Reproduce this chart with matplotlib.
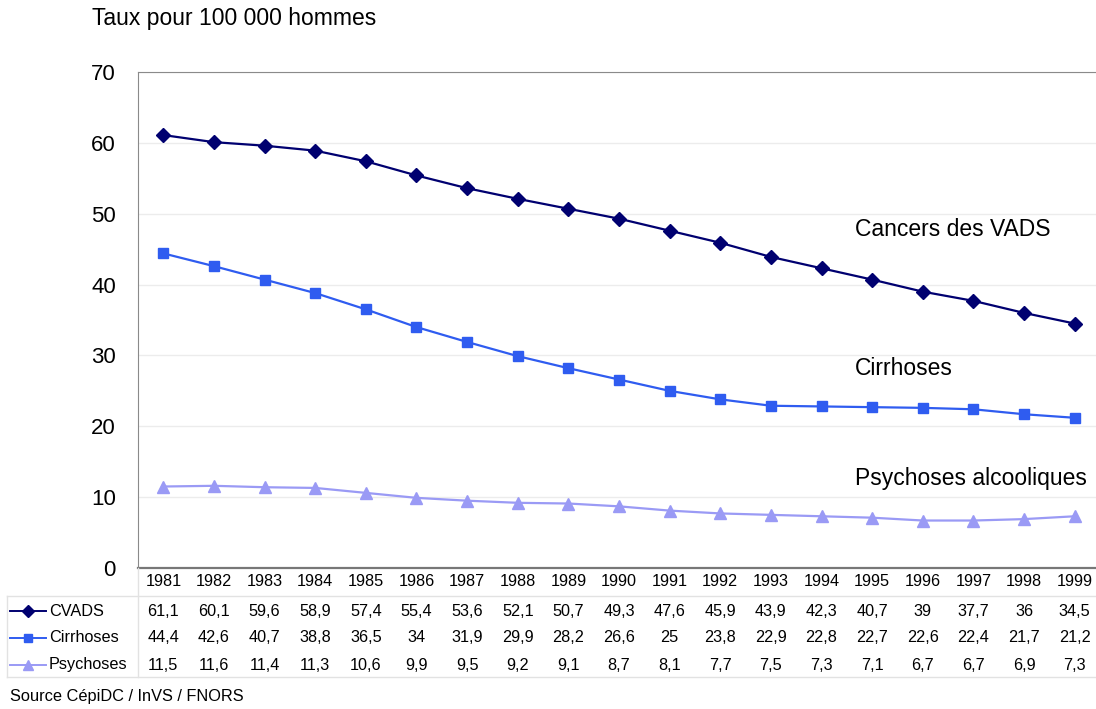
import numpy as np
import matplotlib.pyplot as plt
from matplotlib.lines import Line2D
import matplotlib.transforms as mtransforms

plt.rcParams['font.family'] = ['Liberation Sans', 'DejaVu Sans']

annees = [1981, 1982, 1983, 1984, 1985, 1986, 1987, 1988, 1989, 1990,
          1991, 1992, 1993, 1994, 1995, 1996, 1997, 1998, 1999]
cvads = [61.1, 60.1, 59.6, 58.9, 57.4, 55.4, 53.6, 52.1, 50.7, 49.3,
         47.6, 45.9, 43.9, 42.3, 40.7, 39, 37.7, 36, 34.5]
cirrhoses = [44.4, 42.6, 40.7, 38.8, 36.5, 34, 31.9, 29.9, 28.2, 26.6,
             25, 23.8, 22.9, 22.8, 22.7, 22.6, 22.4, 21.7, 21.2]
psychoses = [11.5, 11.6, 11.4, 11.3, 10.6, 9.9, 9.5, 9.2, 9.1, 8.7,
             8.1, 7.7, 7.5, 7.3, 7.1, 6.7, 6.7, 6.9, 7.3]

series = [
    ("CVADS", cvads, "#000070", "D", 7, "Cancers des VADS", 47.8),
    ("Cirrhoses", cirrhoses, "#2f5cf0", "s", 7, "Cirrhoses", 28.1),
    ("Psychoses", psychoses, "#9a9af5", "^", 8, "Psychoses alcooliques", 12.6),
]

W, H = 1096, 709
fig = plt.figure(figsize=(W / 100, H / 100), dpi=100)
ax = fig.add_axes([138 / W, 1 - 568 / H, (1100 - 138) / W, (568 - 72) / H])

x = np.arange(len(annees))
for nom, vals, col, mk, ms, lab, ly in series:
    ax.plot(x, vals, color=col, marker=mk, markersize=ms, linewidth=1.6)

ax.set_xlim(-0.5, len(annees) - 0.5)
ax.set_ylim(0, 70)
ax.set_yticks(range(0, 71, 10))
ax.yaxis.grid(True, color="#ececec", linewidth=1)
ax.set_axisbelow(True)
ax.set_xticks([])
ax.tick_params(axis="y", length=0, pad=16, labelsize=16)
ax.spines["right"].set_visible(False)
ax.spines["left"].set_color("#8a8a8a")
ax.spines["top"].set_color("#8a8a8a")
ax.spines["bottom"].set_color("#777777")
ax.spines["bottom"].set_linewidth(1.6)

# series labels on the right (the lowest one sits over a gridline)
for nom, vals, col, mk, ms, lab, ly in series:
    fond = dict(facecolor="white", edgecolor="none", pad=3) if nom == "Psychoses" else None
    ax.text(13.66, ly, lab, fontsize=16.5, va="center", bbox=fond)

fig.text(92 / W, 1 - 19 / H, "Taux pour 100 000 hommes", fontsize=16.5, va="center")

# data table under the plot
trans = mtransforms.blended_transform_factory(ax.transData, fig.transFigure)
row_y = [581, 611, 638, 665]


def fy(py):
    return 1 - py / H


for i, a in enumerate(annees):
    ax.text(i, fy(row_y[0]), str(a), transform=trans, ha="center", va="center",
            fontsize=11.7, clip_on=False)
for r, (nom, vals, col, mk, ms, lab, ly) in enumerate(series):
    yy = fy(row_y[r + 1])
    for i, v in enumerate(vals):
        txt = ("%g" % v).replace(".", ",")
        ax.text(i, yy, txt, transform=trans, ha="center", va="center",
                fontsize=11.7, clip_on=False)
    fig.add_artist(Line2D([10 / W, 46 / W], [yy, yy], color=col, linewidth=1.4,
                          transform=fig.transFigure))
    fig.add_artist(Line2D([28 / W], [yy], color=col, marker=mk, markersize=ms - 1,
                          transform=fig.transFigure))
    fig.text(49 / W, yy, nom, fontsize=11.7, va="center")

grille = "#e2e2e2"
fig.add_artist(Line2D([7 / W, 1], [fy(596), fy(596)], color=grille, linewidth=1,
                      transform=fig.transFigure))
fig.add_artist(Line2D([7 / W, 1], [fy(677), fy(677)], color=grille, linewidth=1,
                      transform=fig.transFigure))
fig.add_artist(Line2D([7 / W, 7 / W], [fy(596), fy(677)], color=grille, linewidth=1,
                      transform=fig.transFigure))
fig.add_artist(Line2D([138 / W, 138 / W], [fy(568), fy(677)], color=grille, linewidth=1,
                      transform=fig.transFigure))

fig.text(10 / W, fy(697), "Source CépiDC / InVS / FNORS", fontsize=11.8, va="center")

fig.savefig("out.png", dpi=100)
